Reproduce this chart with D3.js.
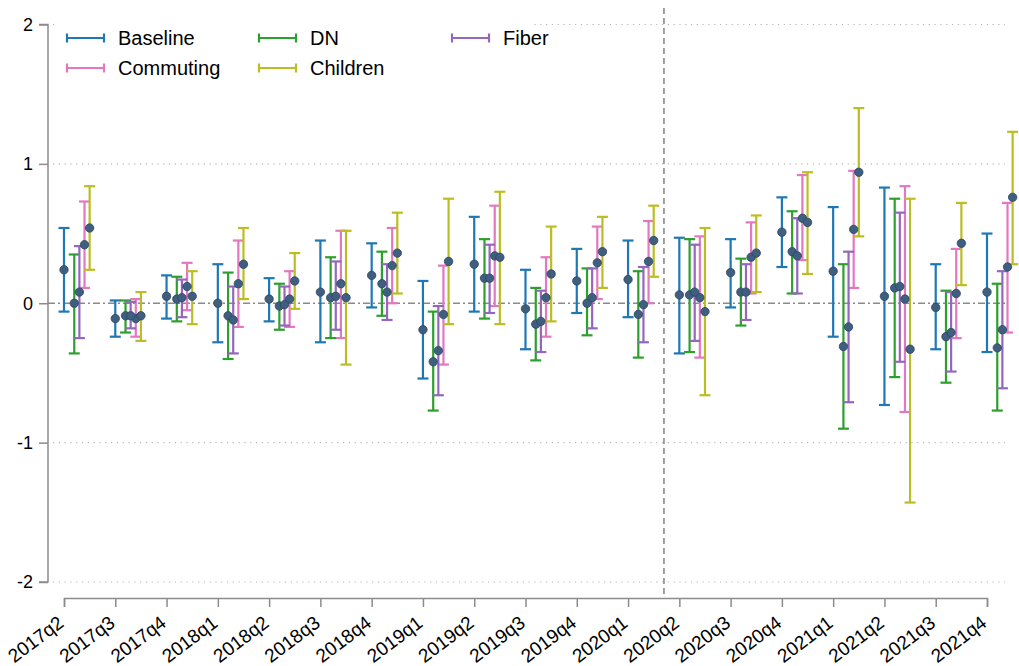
<!DOCTYPE html>
<html>
<head>
<meta charset="utf-8">
<script src="https://cdn.jsdelivr.net/npm/d3@7"></script>
<style>
  html, body { margin: 0; padding: 0; background: #fff; }
  svg { display: block; font-family: Arial, "Liberation Sans", sans-serif; }
</style>
</head>
<body>
<svg id="chart" width="1019" height="666"></svg>
<script>
const quarters = ["2017q2","2017q3","2017q4","2018q1","2018q2","2018q3","2018q4","2019q1","2019q2","2019q3","2019q4","2020q1","2020q2","2020q3","2020q4","2021q1","2021q2","2021q3","2021q4"];
const yTicks = [-2, -1, 0, 1, 2];

const baseline   = [0.24,-0.11,0.05,0.00,0.03,0.08,0.20,-0.19,0.28,-0.04,0.16,0.17,0.06,0.22,0.51,0.23,0.05,-0.03,0.08];
const baselineLo = [-0.06,-0.24,-0.11,-0.28,-0.13,-0.28,-0.03,-0.54,-0.06,-0.33,-0.07,-0.10,-0.36,-0.03,0.26,-0.24,-0.73,-0.33,-0.35];
const baselineHi = [0.54,0.02,0.20,0.28,0.18,0.45,0.43,0.16,0.62,0.24,0.39,0.45,0.47,0.46,0.76,0.69,0.83,0.28,0.50];

const dn   = [0.00,-0.09,0.03,-0.09,-0.02,0.04,0.14,-0.42,0.18,-0.15,0.00,-0.08,0.06,0.08,0.37,-0.31,0.11,-0.24,-0.32];
const dnLo = [-0.36,-0.21,-0.13,-0.40,-0.19,-0.25,-0.09,-0.77,-0.11,-0.41,-0.23,-0.39,-0.35,-0.16,0.07,-0.90,-0.53,-0.57,-0.77];
const dnHi = [0.35,0.02,0.19,0.22,0.14,0.33,0.37,-0.06,0.46,0.11,0.25,0.23,0.46,0.32,0.66,0.28,0.75,0.09,0.14];

const fiber   = [0.08,-0.09,0.04,-0.12,-0.01,0.05,0.08,-0.34,0.18,-0.13,0.04,-0.01,0.08,0.08,0.34,-0.17,0.12,-0.21,-0.19];
const fiberLo = [-0.25,-0.18,-0.10,-0.36,-0.16,-0.19,-0.12,-0.66,-0.07,-0.35,-0.18,-0.28,-0.27,-0.12,0.07,-0.71,-0.42,-0.49,-0.61];
const fiberHi = [0.41,0.01,0.17,0.12,0.12,0.30,0.28,-0.02,0.42,0.09,0.25,0.26,0.42,0.28,0.61,0.37,0.65,0.08,0.23];

const commuting   = [0.42,-0.11,0.12,0.14,0.03,0.14,0.27,-0.08,0.34,0.04,0.29,0.30,0.04,0.33,0.61,0.53,0.03,0.07,0.26];
const commutingLo = [0.11,-0.24,-0.05,-0.17,-0.17,-0.25,0.00,-0.44,-0.02,-0.24,0.03,0.00,-0.39,0.07,0.31,0.11,-0.78,-0.25,-0.21];
const commutingHi = [0.73,0.03,0.29,0.45,0.23,0.52,0.54,0.27,0.70,0.33,0.55,0.59,0.48,0.58,0.92,0.95,0.84,0.39,0.72];

const children   = [0.54,-0.09,0.05,0.28,0.16,0.04,0.36,0.30,0.33,0.21,0.37,0.45,-0.06,0.36,0.58,0.94,-0.33,0.43,0.76];
const childrenLo = [0.24,-0.27,-0.15,0.03,-0.04,-0.44,0.07,-0.15,-0.15,-0.13,0.11,0.19,-0.66,0.08,0.21,0.48,-1.43,0.13,0.28];
const childrenHi = [0.84,0.08,0.23,0.54,0.36,0.52,0.65,0.75,0.80,0.55,0.62,0.70,0.54,0.63,0.94,1.40,0.75,0.72,1.23];

const series = [
  {name: "Baseline",  color: "#1f77b4", offset: 0.0, est: baseline,  lo: baselineLo,  hi: baselineHi},
  {name: "Commuting", color: "#e377c2", offset: 0.4, est: commuting, lo: commutingLo, hi: commutingHi},
  {name: "DN",        color: "#2ca02c", offset: 0.2, est: dn,        lo: dnLo,        hi: dnHi},
  {name: "Children",  color: "#bcbd22", offset: 0.5, est: children,  lo: childrenLo,  hi: childrenHi},
  {name: "Fiber",     color: "#9467bd", offset: 0.3, est: fiber,     lo: fiberLo,     hi: fiberHi}
];
const breakPos = 11.7;

const svg = d3.select("#chart");
const x = d3.scaleLinear().domain([0, quarters.length - 1]).range([64, 987]);
const y = d3.scaleLinear().domain([-2, 2]).range([582, 24.5]);
const axisColor = "#8c8c8c";

// gridlines (dotted)
svg.append("g").selectAll("line").data(yTicks.filter(d => d !== 0)).join("line")
  .attr("x1", 53).attr("x2", 1005)
  .attr("y1", d => y(d)).attr("y2", d => y(d))
  .attr("stroke", "#b5b5b5").attr("stroke-width", 1.2)
  .attr("stroke-dasharray", "1.2,4.6");

// zero line dash-dot
svg.append("line")
  .attr("x1", 48).attr("x2", 1005)
  .attr("y1", y(0)).attr("y2", y(0))
  .attr("stroke", "#8a8a8a").attr("stroke-width", 1.6)
  .attr("stroke-dasharray", "7,3,2,3");

// vertical dashed break line
svg.append("line")
  .attr("x1", x(breakPos)).attr("x2", x(breakPos))
  .attr("y1", 8).attr("y2", 598)
  .attr("stroke", "#8a8a8a").attr("stroke-width", 1.6)
  .attr("stroke-dasharray", "6,4");

// y axis
const yAxis = d3.axisLeft(y).tickValues(yTicks).tickSize(9).tickPadding(6).tickFormat(d => String(d));
const gy = svg.append("g").attr("transform", "translate(48,0)").call(yAxis);
gy.select(".domain").attr("stroke", axisColor).attr("stroke-width", 1.5).attr("d", `M-9,${y(2)}H0V${y(-2)}H-9`);
gy.selectAll(".tick line").attr("stroke", axisColor).attr("stroke-width", 1.5);
gy.selectAll(".tick text").attr("font-size", 18).attr("fill", "#000").attr("font-family", "Arial, 'Liberation Sans', sans-serif");

// x axis
const xAxis = d3.axisBottom(x).tickValues(d3.range(quarters.length)).tickFormat(i => quarters[i]).tickSize(9).tickPadding(4);
const gx = svg.append("g").attr("transform", "translate(0,598)").call(xAxis);
gx.select(".domain").attr("stroke", axisColor).attr("stroke-width", 1.5);
gx.selectAll(".tick line").attr("stroke", axisColor).attr("stroke-width", 1.5);
gx.selectAll(".tick text")
  .attr("font-size", 19).attr("fill", "#000").attr("font-family", "Arial, 'Liberation Sans', sans-serif")
  .attr("text-anchor", "end")
  .attr("dy", "0.35em")
  .attr("transform", "translate(-3.5,22) rotate(-37)")
  .attr("y", 0).attr("x", 0);

// error bars
const capW = 5.5;
const bars = svg.append("g");
series.forEach(s => {
  const g = bars.append("g");
  const idx = d3.range(quarters.length);
  g.selectAll("line.v").data(idx).join("line").attr("class", "v")
    .attr("x1", i => x(i + s.offset)).attr("x2", i => x(i + s.offset))
    .attr("y1", i => y(s.lo[i])).attr("y2", i => y(s.hi[i]))
    .attr("stroke", s.color).attr("stroke-width", 2.2);
  g.selectAll("line.t").data(idx).join("line").attr("class", "t")
    .attr("x1", i => x(i + s.offset) - capW).attr("x2", i => x(i + s.offset) + capW)
    .attr("y1", i => y(s.hi[i])).attr("y2", i => y(s.hi[i]))
    .attr("stroke", s.color).attr("stroke-width", 2.2);
  g.selectAll("line.b").data(idx).join("line").attr("class", "b")
    .attr("x1", i => x(i + s.offset) - capW).attr("x2", i => x(i + s.offset) + capW)
    .attr("y1", i => y(s.lo[i])).attr("y2", i => y(s.lo[i]))
    .attr("stroke", s.color).attr("stroke-width", 2.2);
});
// points
const pts = svg.append("g");
series.forEach(s => {
  pts.append("g").selectAll("circle").data(d3.range(quarters.length)).join("circle")
    .attr("cx", i => x(i + s.offset)).attr("cy", i => y(s.est[i]))
    .attr("r", 4.2)
    .attr("fill", "#3f5f80").attr("stroke", "#2c4460").attr("stroke-width", 0.8);
});

// legend
const legend = svg.append("g");
legend.append("rect").attr("x", 55).attr("y", 18).attr("width", 478).attr("height", 68).attr("fill", "#fff");
const legendItems = [
  {s: series[0], col: 0, row: 0},
  {s: series[2], col: 1, row: 0},
  {s: series[4], col: 2, row: 0},
  {s: series[1], col: 0, row: 1},
  {s: series[3], col: 1, row: 1}
];
const colX = [67, 259, 452];
const rowY = [38, 68];
legendItems.forEach(it => {
  const lx = colX[it.col], ly = rowY[it.row];
  const g = legend.append("g");
  g.append("line").attr("x1", lx).attr("x2", lx + 37).attr("y1", ly).attr("y2", ly)
    .attr("stroke", it.s.color).attr("stroke-width", 2.2);
  [lx, lx + 37].forEach(cx => g.append("line").attr("x1", cx).attr("x2", cx).attr("y1", ly - 4.5).attr("y2", ly + 4.5)
    .attr("stroke", it.s.color).attr("stroke-width", 2.2));
  g.append("text").attr("x", lx + 51).attr("y", ly).attr("dy", "0.35em")
    .attr("font-size", 20).attr("fill", "#000").text(it.s.name);
});
</script>
</body>
</html>
